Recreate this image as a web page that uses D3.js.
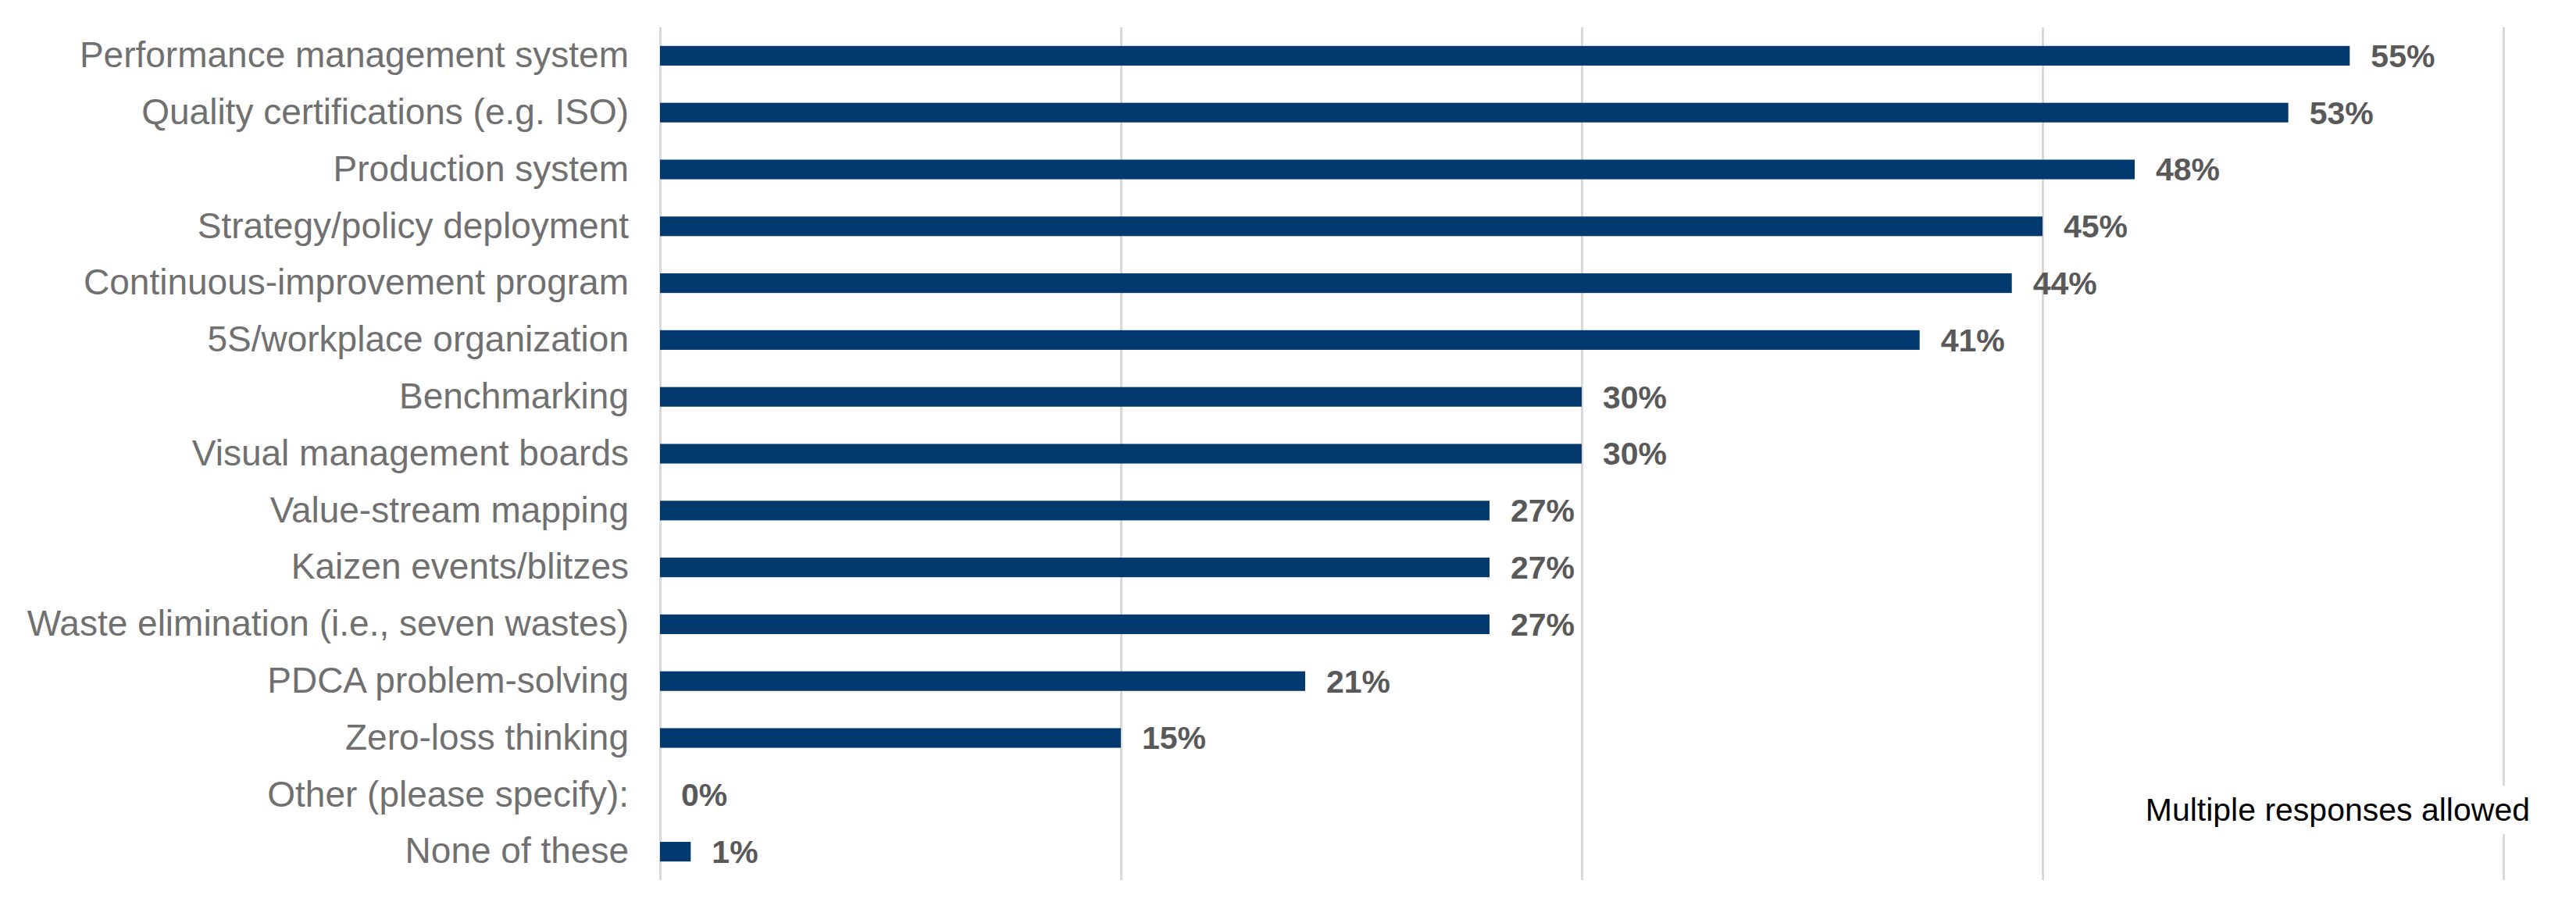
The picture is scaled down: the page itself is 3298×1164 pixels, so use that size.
<!DOCTYPE html>
<html>
<head>
<meta charset="utf-8">
<script src="https://cdn.jsdelivr.net/npm/d3@7"></script>
<style>
  html, body { margin: 0; padding: 0; background: #fff; }
  svg { display: block; }
</style>
</head>
<body>
<svg id="chart" width="3298" height="1164"></svg>
<script>
const categories = [
  "Performance management system",
  "Quality certifications (e.g. ISO)",
  "Production system",
  "Strategy/policy deployment",
  "Continuous-improvement program",
  "5S/workplace organization",
  "Benchmarking",
  "Visual management boards",
  "Value-stream mapping",
  "Kaizen events/blitzes",
  "Waste elimination (i.e., seven wastes)",
  "PDCA problem-solving",
  "Zero-loss thinking",
  "Other (please specify):",
  "None of these"
];
const values = [55, 53, 48, 45, 44, 41, 30, 30, 27, 27, 27, 21, 15, 0, 1];
const gridTicks = [0, 15, 30, 45, 60];
const note = "Multiple responses allowed";

(function () {
const svg = d3.select("#chart");
const mLeft = 845, mRight = 3205, mTop = 35, mBottom = 1127;

const x = d3.scaleLinear().domain([0, 60]).range([mLeft, mRight]);
const y = d3.scaleBand().domain(categories).range([mTop, mBottom])
  .paddingInner(0.655).paddingOuter(0.3275);

// gridlines
const grid = svg.append("g")
  .attr("transform", `translate(0,${mTop})`)
  .call(d3.axisTop(x).tickValues(gridTicks).tickSize(-(mBottom - mTop)).tickFormat(""));
grid.select(".domain").remove();
grid.selectAll(".tick line").attr("stroke", "#d9d9d9").attr("stroke-width", 3);

// category labels
const yAxis = svg.append("g")
  .attr("transform", `translate(${mLeft},0)`)
  .call(d3.axisLeft(y).tickSize(0).tickPadding(40));
yAxis.select(".domain").remove();
yAxis.selectAll(".tick text")
  .attr("font-family", "'Liberation Sans', Arial, sans-serif")
  .attr("font-size", 46)
  .attr("fill", "#707070");

// bars
const data = categories.map((c, i) => ({ c, v: values[i] }));
svg.append("g").selectAll("rect").data(data).join("rect")
  .attr("x", x(0))
  .attr("y", d => y(d.c))
  .attr("width", d => x(d.v) - x(0))
  .attr("height", y.bandwidth())
  .attr("fill", "#023a70");

// value labels
svg.append("g").selectAll("text").data(data).join("text")
  .attr("x", d => x(d.v) + 27)
  .attr("y", d => y(d.c) + y.bandwidth() / 2)
  .attr("dy", "0.35em")
  .attr("font-family", "'Liberation Sans', Arial, sans-serif")
  .attr("font-weight", "bold")
  .attr("font-size", 41)
  .attr("fill", "#595959")
  .text(d => d.v + "%");

// note with white background
const noteG = svg.append("g");
const noteText = noteG.append("text")
  .attr("x", 3239)
  .attr("y", 1051)
  .attr("text-anchor", "end")
  .attr("font-family", "'Liberation Sans', Arial, sans-serif")
  .attr("font-size", 41)
  .attr("fill", "#000")
  .text(note);
const bb = noteText.node().getBBox();
noteG.insert("rect", "text")
  .attr("x", bb.x - 6).attr("y", bb.y - 8)
  .attr("width", bb.width + 12).attr("height", bb.height + 16)
  .attr("fill", "#fff");
})();
</script>
</body>
</html>
